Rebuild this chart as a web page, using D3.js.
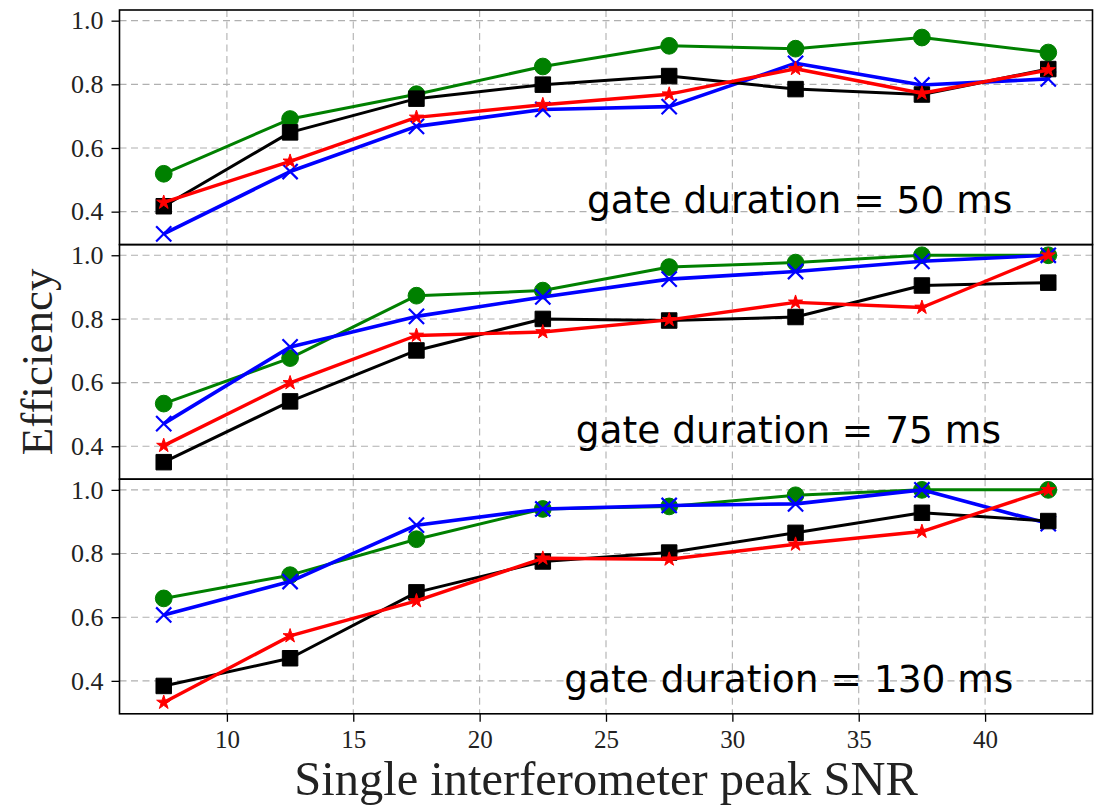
<!DOCTYPE html>
<html>
<head>
<meta charset="utf-8">
<script src="https://cdn.jsdelivr.net/npm/d3@7"></script>
<style>
  html, body { margin: 0; padding: 0; background: #fff; }
  svg { display: block; }
</style>
</head>
<body>
<svg id="chart" width="1096" height="805"></svg>
<script>
// Single-interferometer peak SNR bins (x positions of every series)
const snr = [7.5, 12.5, 17.5, 22.5, 27.5, 32.5, 37.5, 42.5];
const xTicks = [10, 15, 20, 25, 30, 35, 40];
const yTicks = [0.4, 0.6, 0.8, 1.0];
const gateLabels = ["gate duration = 50 ms", "gate duration = 75 ms", "gate duration = 130 ms"];

// Efficiency per gate duration
const green50 = [0.519, 0.691, 0.769, 0.856, 0.921, 0.912, 0.947, 0.900];
const blue50  = [0.330, 0.526, 0.668, 0.721, 0.730, 0.866, 0.798, 0.817];
const black50 = [0.417, 0.649, 0.755, 0.799, 0.826, 0.785, 0.768, 0.848];
const red50   = [0.429, 0.558, 0.696, 0.736, 0.769, 0.849, 0.772, 0.845];

const green75 = [0.534, 0.677, 0.873, 0.889, 0.963, 0.977, 1.000, 1.000];
const blue75  = [0.471, 0.712, 0.808, 0.869, 0.925, 0.949, 0.981, 1.000];
const black75 = [0.350, 0.541, 0.701, 0.800, 0.795, 0.806, 0.905, 0.914];
const red75   = [0.402, 0.599, 0.748, 0.759, 0.797, 0.852, 0.836, 1.000];

const green130 = [0.659, 0.732, 0.845, 0.940, 0.948, 0.983, 1.000, 1.000];
const blue130  = [0.607, 0.712, 0.889, 0.940, 0.951, 0.956, 1.000, 0.894];
const black130 = [0.384, 0.471, 0.678, 0.775, 0.803, 0.865, 0.928, 0.902];
const red130   = [0.332, 0.541, 0.651, 0.785, 0.782, 0.829, 0.869, 1.000];

// Series styling (drawing order: green, blue, black, red)
const seriesStyle = [
  { color: "#008000", marker: "circle", width: 3.0 },
  { color: "#0000ff", marker: "x",      width: 3.6 },
  { color: "#000000", marker: "square", width: 3.0 },
  { color: "#ff0000", marker: "star",   width: 3.4 }
];

const panelData = [
  [green50, blue50, black50, red50],
  [green75, blue75, black75, red75],
  [green130, blue130, black130, red130]
];

// Label anchor (left edge, baseline) in data units for each panel
const labelAnchor = [[24.25, 0.396], [23.8, 0.411], [23.35, 0.364]];

const svg = d3.select("#chart");
const plotLeft = 119.5, plotRight = 1092.5, plotTop = 10, panelH = 234.6;

const x = d3.scaleLinear().domain([5.75, 44.25]).range([plotLeft, plotRight]);

// Shared y-range with 5% padding around all values
const allVals = panelData.flat(2);
const [ymin, ymax] = d3.extent(allVals);
const pad = (ymax - ymin) * 0.05;
const yDomain = [ymin - pad, ymax + pad];

const serif = "'Liberation Serif', 'Times New Roman', serif";
const sans = "'DejaVu Sans', sans-serif";

function markerPath(kind) {
  if (kind === "circle") return d3.symbol(d3.symbolCircle, 220)();
  if (kind === "square") return d3.symbol(d3.symbolSquare, 240)();
  if (kind === "star") return d3.symbol(d3.symbolStar, 62)();
  const s = 7.6;
  return `M${-s},${-s}L${s},${s}M${-s},${s}L${s},${-s}`;
}

panelData.forEach((series, pi) => {
  const y0 = plotTop + pi * panelH;
  const y = d3.scaleLinear().domain(yDomain).range([y0 + panelH, y0]);
  const g = svg.append("g");

  // grid
  const grid = g.append("g").attr("stroke", "#b0b0b0").attr("stroke-width", 1.1)
    .attr("stroke-dasharray", "7,4.5");
  grid.selectAll("line.vx").data(xTicks).join("line")
    .attr("x1", d => x(d)).attr("x2", d => x(d)).attr("y1", y0).attr("y2", y0 + panelH);
  grid.selectAll("line.hy").data(yTicks).join("line")
    .attr("x1", plotLeft).attr("x2", plotRight).attr("y1", d => y(d)).attr("y2", d => y(d));

  // y axis
  const yAxis = g.append("g").attr("transform", `translate(${plotLeft},0)`)
    .call(d3.axisLeft(y).tickValues(yTicks).tickFormat(d3.format(".1f")).tickSize(8).tickPadding(8));
  yAxis.select(".domain").remove();
  yAxis.selectAll(".tick line").attr("stroke", "#000").attr("stroke-width", 1.3);
  yAxis.selectAll(".tick text").attr("font-family", serif).attr("font-size", 26).attr("fill", "#222");

  // series
  const plot = g.append("g");
  series.forEach((vals, si) => {
    const st = seriesStyle[si];
    const pts = snr.map((s, i) => [s, vals[i]]);
    plot.append("path").datum(pts)
      .attr("fill", "none").attr("stroke", st.color).attr("stroke-width", st.width)
      .attr("stroke-linejoin", "round")
      .attr("d", d3.line().x(d => x(d[0])).y(d => y(d[1])));
    const path = markerPath(st.marker);
    plot.selectAll(null).data(pts).join("path")
      .attr("transform", d => `translate(${x(d[0])},${y(d[1])})`)
      .attr("d", path)
      .attr("fill", st.marker === "x" ? "none" : st.color)
      .attr("stroke", st.color)
      .attr("stroke-width", st.marker === "x" ? 2.2 : 1);
  });

  // panel label
  g.append("text")
    .attr("x", x(labelAnchor[pi][0])).attr("y", y(labelAnchor[pi][1]))
    .attr("font-family", sans).attr("font-size", 37.5).attr("fill", "#000")
    .text(gateLabels[pi]);

  // frame
  g.append("rect").attr("x", plotLeft).attr("y", y0).attr("width", plotRight - plotLeft).attr("height", panelH)
    .attr("fill", "none").attr("stroke", "#000").attr("stroke-width", 1.6);

  // x axis ticks on bottom panel only
  if (pi === panelData.length - 1) {
    const xAxis = g.append("g").attr("transform", `translate(0,${y0 + panelH})`)
      .call(d3.axisBottom(x).tickValues(xTicks).tickSize(8).tickPadding(8));
    xAxis.select(".domain").remove();
    xAxis.selectAll(".tick line").attr("stroke", "#000").attr("stroke-width", 1.3);
    xAxis.selectAll(".tick text").attr("font-family", serif).attr("font-size", 25).attr("fill", "#222");
  }
});

// axis titles
svg.append("text")
  .attr("x", (plotLeft + plotRight) / 2).attr("y", 795)
  .attr("text-anchor", "middle")
  .attr("font-family", serif).attr("font-size", 48.5).attr("fill", "#222")
  .text("Single interferometer peak SNR");

svg.append("text")
  .attr("transform", `translate(52,${plotTop + panelH * 1.5}) rotate(-90)`)
  .attr("text-anchor", "middle")
  .attr("font-family", serif).attr("font-size", 45).attr("fill", "#222")
  .text("Efficiency");
</script>
</body>
</html>
